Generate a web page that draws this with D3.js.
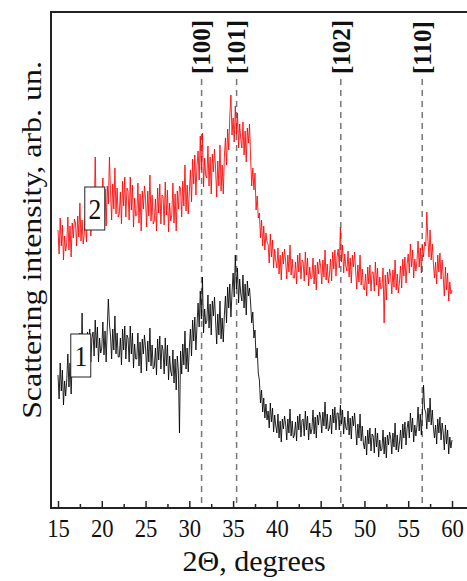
<!DOCTYPE html>
<html>
<head>
<meta charset="utf-8">
<title>XRD patterns</title>
<script src="https://cdn.jsdelivr.net/npm/d3@7"></script>
<style type="text/css">
body{ margin:0; background:#fff; }
svg text{ font-family:"Liberation Serif","Times New Roman",serif; fill:#111; }
.frame{ fill:none; stroke:#222; stroke-width:2; }
.axis path{ display:none; }
.axis line{ stroke:#222; stroke-width:1.5; }
.peak-line{ stroke:#777; stroke-width:1.5; stroke-dasharray:6,5; }
.peak-label{ font-weight:bold; }
.trace{ fill:none; stroke-width:1; stroke-linejoin:round; }
.tag-box{ fill:#fff; stroke:#222; stroke-width:1; }
</style>
</head>
<body>
<script>
// scan: 15..60 deg, step 0.125
var scanStart = 15, scanStep = 0.125;

// sample 2 (red), arb. un. -- one row per degree
var intensity2 = [
	278,254,290,262,283,248,272,257, 265,291,258,282,251,285,270,289,
	285,262,292,271,305,267,288,264, 274,293,266,302,281,305,272,296,
	308,284,351,292,313,278,302,287, 298,330,290,319,282,322,304,351,
	316,288,324,299,340,294,320,291, 294,316,284,327,302,331,291,320,
	317,288,331,298,323,281,310,292, 293,325,285,314,277,317,299,322,
	309,281,317,292,333,287,313,284, 287,309,277,320,295,324,284,313,
	312,283,326,293,318,276,305,287, 293,325,285,314,277,317,299,322,
	319,291,327,302,343,297,323,294, 316,338,306,349,324,353,313,342,
	357,328,372,338,375,321,350,332, 330,362,322,351,314,354,336,359,
	339,311,347,322,363,317,343,314, 351,370,343,379,358,392,413,373,
	390,366,402,374,395,360,384,369, 360,386,353,377,346,380,365,384,
	350,322,340,318,335,298,312,290, 295,270,288,262,282,258,275,266,
	264,245,274,251,268,240,259,247, 240,260,234,253,228,256,244,259,
	247,229,253,236,263,233,249,230, 230,246,224,253,236,255,229,248,
	246,227,256,233,250,222,241,229, 230,250,224,243,218,246,234,249,
	242,224,248,231,258,228,244,225, 233,249,227,256,239,258,232,251,
	259,240,281,246,263,235,254,242, 237,257,231,250,225,253,241,256,
	237,219,243,226,253,223,239,220, 218,234,212,241,224,243,217,236,
	236,217,246,223,240,212,231,219, 220,240,185,233,208,236,224,239,
	232,214,238,221,248,218,234,215, 226,242,220,249,232,251,225,244,
	254,235,264,241,258,230,249,237, 247,267,241,260,235,263,251,266,
	262,296,268,251,278,248,264,245, 230,246,224,253,236,255,229,248,
	231,212,241,218,235,207,226,214, 218
];

// sample 1 (black), arb. un.
var intensity1 = [
	133,109,145,117,138,103,127,112, 128,154,121,145,114,148,133,152,
	155,132,162,141,175,137,195,134, 148,167,140,176,155,179,146,170,
	176,152,188,160,181,146,170,155, 160,186,153,177,146,180,209,184,
	172,149,179,158,192,154,175,151, 151,170,143,179,158,182,149,173,
	170,146,182,154,175,140,164,149, 149,175,142,166,135,169,154,173,
	160,137,167,146,180,142,163,139, 141,160,133,169,148,172,139,163,
	158,134,170,142,163,128,152,137, 132,158,125,149,118,152,137,75,
	157,134,164,143,177,139,160,136, 160,179,152,188,167,191,158,182,
	205,181,217,189,231,175,199,184, 187,213,180,204,173,207,192,211,
	187,164,194,173,207,169,190,166, 193,212,185,221,200,224,191,215,
	235,211,253,219,240,205,229,214, 207,233,200,224,193,227,212,220,
	205,185,196,170,178,150,160,135, 128,105,118,96,110,90,104,88,
	97,80,105,86,100,76,93,82, 75,94,70,87,66,89,79,92,
	84,68,89,75,99,72,87,70, 73,86,67,92,78,94,71,88,
	89,72,97,78,92,68,85,74, 79,98,74,91,70,93,83,96,
	91,75,96,82,106,79,94,77, 80,93,74,99,85,101,78,95,
	95,78,103,84,98,74,91,80, 78,97,73,90,69,92,82,95,
	79,63,84,70,94,67,82,65, 59,72,53,78,64,80,57,74,
	72,55,80,61,75,51,68,57, 59,78,54,71,50,73,63,76,
	70,54,75,61,85,58,73,56, 65,78,59,84,70,86,63,80,
	87,70,95,76,90,66,83,72, 82,101,77,94,73,96,123,99,
	96,79,100,86,110,83,98,81, 70,83,64,89,75,91,68,85,
	75,58,83,64,78,54,71,60, 68
];

var seriesNames = ["1", "2"];
var seriesColors = ["#000000", "#ff0000"];
var tagAngle = [17.6, 19.2];
var tagIntensity = [153, 300];

var peakNames = ["[100]", "[101]", "[102]", "[110]"];
var peakAngles = [31.4, 35.4, 47.3, 56.6];

var majorTicks = [15, 20, 25, 30, 35, 40, 45, 50, 55, 60];
var minorTicks = [17.5, 22.5, 27.5, 32.5, 37.5, 42.5, 47.5, 52.5, 57.5];

var W = 467, H = 581,
	margin = {top:12, right:1, bottom:73, left:51},
	w = W - margin.left - margin.right,
	h = H - margin.top - margin.bottom;

var svg = d3.select('body').append('svg').attr('width', W).attr('height', H),
	g = svg.append('g').attr('transform', 'translate(' + margin.left + ',' + margin.top + ')');

var x = d3.scaleLinear().domain([14.2, 61.6]).range([0, w]),
	y = d3.scaleLinear().domain([0, 496]).range([h, 0]);

function angleAt(i){ return scanStart + i * scanStep; }

// peak markers
g.selectAll('.peak-line')
	.data(peakAngles)
	.enter().append('line')
		.attr('class', 'peak-line')
		.attr('x1', function(d){ return x(d); })
		.attr('x2', function(d){ return x(d); })
		.attr('y1', 67)
		.attr('y2', h);

g.selectAll('.peak-label')
	.data(peakAngles)
	.enter().append('text')
		.attr('class', 'peak-label')
		.attr('transform', function(d){ return 'translate(' + x(d) + ',62) rotate(-90)'; })
		.attr('dy', '0.35em')
		.style('font-size', '25px')
		.text(function(d, i){ return peakNames[i]; });

// traces
var line = d3.line()
	.x(function(d, i){ return x(angleAt(i)); })
	.y(function(d){ return y(d); });

g.append('path').attr('class', 'trace')
	.attr('d', line(intensity2))
	.attr('stroke', seriesColors[1])
	.attr('stroke-opacity', 0.85);

g.append('path').attr('class', 'trace')
	.attr('d', line(intensity1))
	.attr('stroke', seriesColors[0])
	.attr('stroke-opacity', 0.85);

// series tags
var tags = g.selectAll('.tag')
	.data(seriesNames)
	.enter().append('g')
		.attr('class', 'tag')
		.attr('transform', function(d, i){ return 'translate(' + x(tagAngle[i]) + ',' + y(tagIntensity[i]) + ')'; });

tags.append('rect').attr('class', 'tag-box')
	.attr('x', -10).attr('y', -21).attr('width', 20).attr('height', 43);
tags.append('text')
	.attr('text-anchor', 'middle')
	.attr('dy', '0.36em')
	.style('font-size', '30px')
	.attr('transform', 'scale(0.85,1)')
	.text(function(d){ return d; });

// axis
var axisMajor = d3.axisBottom(x).tickValues(majorTicks).tickSize(-7).tickPadding(0).tickFormat(d3.format('d'));
var ax = g.append('g').attr('class', 'axis').attr('transform', 'translate(0,' + h + ')').call(axisMajor);
ax.selectAll('text')
	.attr('y', 0).attr('dy', 0)
	.attr('transform', 'translate(0,29) scale(0.87,1)')
	.style('font-size', '26px');

g.append('g').attr('class', 'axis').attr('transform', 'translate(0,' + h + ')')
	.call(d3.axisBottom(x).tickValues(minorTicks).tickSize(-4).tickFormat(''));

// frame: left, top, bottom
g.append('path').attr('class', 'frame')
	.attr('d', 'M' + (w + 5) + ',0H0V' + h + 'H' + (w + 5));

// axis titles
svg.append('text')
	.attr('text-anchor', 'middle')
	.attr('transform', 'translate(' + (margin.left + x(37.4)) + ',' + 571 + ')')
	.style('font-size', '30px')
	.text('2\u0398, degrees');

svg.append('text')
	.attr('text-anchor', 'middle')
	.attr('transform', 'translate(41,240) rotate(-90) scale(1.14,1)')
	.style('font-size', '28px')
	.text('Scattering intensity, arb. un.');
</script>
</body>
</html>
